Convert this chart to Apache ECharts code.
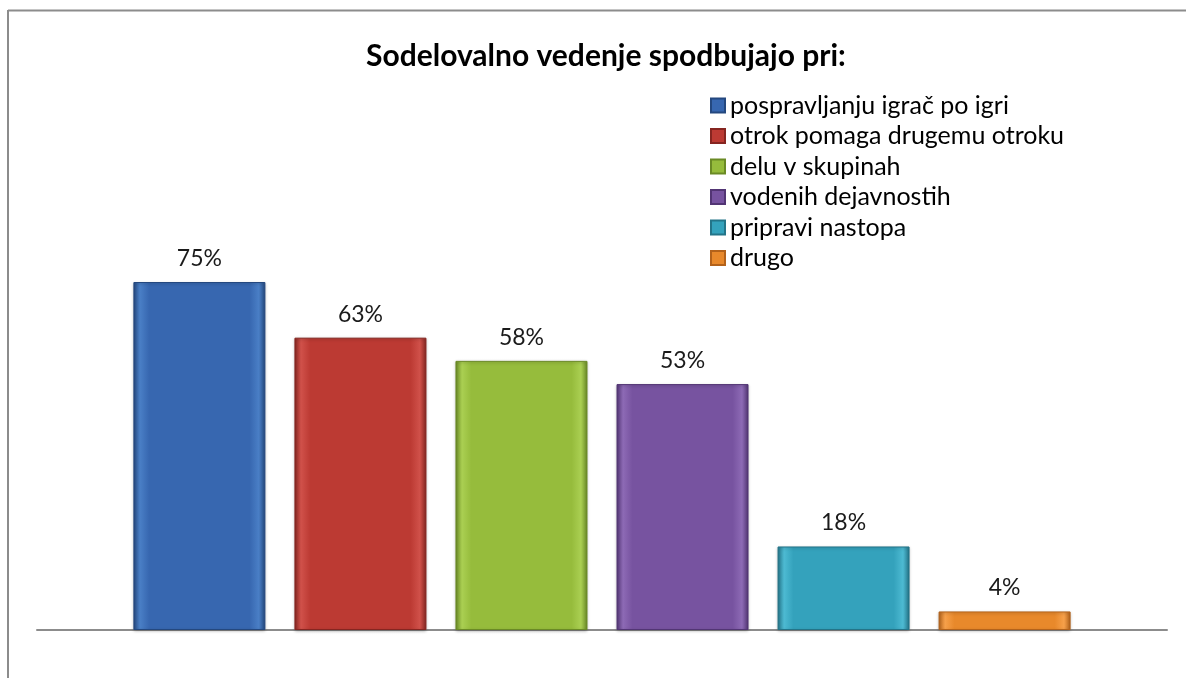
<!DOCTYPE html>
<html>
<head>
<meta charset="utf-8">
<script src="https://cdn.jsdelivr.net/npm/echarts@6/dist/echarts.min.js"></script>
<style>html,body{margin:0;padding:0;background:#fff}#c{width:1186px;height:678px}</style>
</head>
<body>
<div id="c"></div>
<script>
const titleText = 'Sodelovalno vedenje spodbujajo pri:';
const categories = [''];
const seriesNames = ['pospravljanju igrač po igri','otrok pomaga drugemu otroku','delu v skupinah','vodenih dejavnostih','pripravi nastopa','drugo'];
const seriesValues = [75, 63, 58, 53, 18, 4];
const baseColors = ['#3767B0','#BC3A33','#96BC3C','#7753A0','#34A2BC','#E8892B'];
const edgeColors = ['#24487f','#862520','#6a8a25','#523574','#237488','#b3621a'];
const lightColors = ['#4a7fc6','#d0514a','#aacf52','#8d6ab5','#4dbad2','#f6a04a'];

function grad(i){
  return new echarts.graphic.LinearGradient(0,0,1,0,[
    {offset:0,color:edgeColors[i]},
    {offset:0.05,color:lightColors[i]},
    {offset:0.12,color:baseColors[i]},
    {offset:0.88,color:baseColors[i]},
    {offset:0.95,color:lightColors[i]},
    {offset:1,color:edgeColors[i]}
  ]);
}

const chart = echarts.init(document.getElementById('c'));
const series = seriesNames.map((n,i)=>({
  name:n,
  type:'bar',
  data:[seriesValues[i]],
  barWidth:132,
  barGap:'22%',
  itemStyle:{color:grad(i),borderColor:edgeColors[i],borderWidth:1,
    shadowColor:'rgba(0,0,0,0.25)',shadowBlur:3,shadowOffsetY:1},
  label:{show:true,position:'top',distance:12,formatter:'{c}%',
    fontFamily:'Lato',fontSize:23,color:'#1a1a1a'}
}));

chart.setOption({
  animation:false,
  backgroundColor:'#fff',
  title:{text:titleText,left:361,top:36,
    textStyle:{fontFamily:'Lato',fontWeight:'bold',fontSize:30,color:'#000'}},
  legend:{orient:'vertical',left:705,top:88,icon:'rect',itemWidth:14,itemHeight:14,itemGap:5.5,
    data:seriesNames.map((n,i)=>({name:n,itemStyle:{color:baseColors[i]}})),
    textStyle:{fontFamily:'Lato',fontSize:25,color:'#000'}},
  grid:{left:37,right:19,top:166,bottom:48},
  xAxis:{type:'category',data:categories,
    axisLine:{lineStyle:{color:'#8c8c8c',width:2}},axisTick:{show:false},axisLabel:{show:false}},
  yAxis:{type:'value',min:0,max:100,show:false,splitLine:{show:false}},
  graphic:[
    {type:'line',shape:{x1:8,y1:10.5,x2:1186,y2:10.5},style:{stroke:'#8c8c8c',lineWidth:2}},
    {type:'line',shape:{x1:8,y1:10,x2:8,y2:678},style:{stroke:'#8c8c8c',lineWidth:2}}
  ],
  series:series
});
</script>
</body>
</html>
